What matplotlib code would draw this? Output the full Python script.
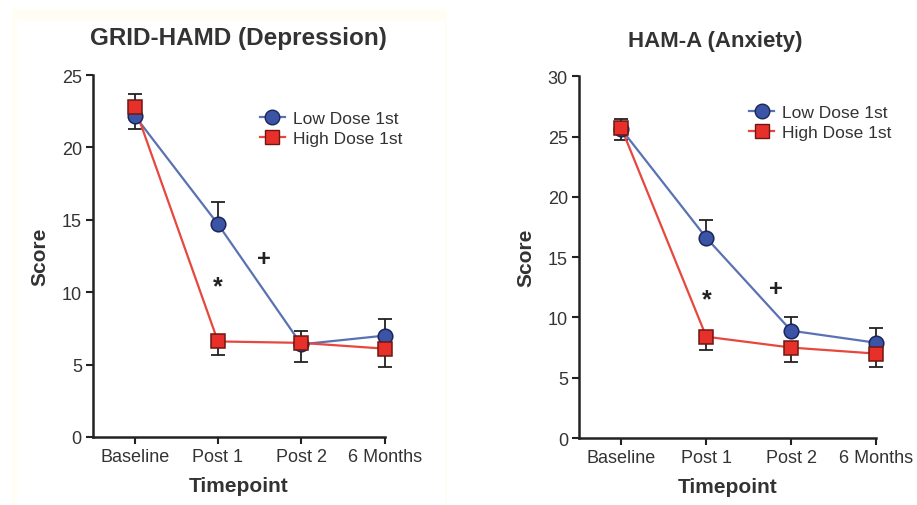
import numpy as np
import matplotlib.pyplot as plt
from matplotlib.patches import Rectangle
from matplotlib.lines import Line2D

timepoints = ["Baseline", "Post 1", "Post 2", "6 Months"]

# GRID-HAMD (depression)
hamd_low = [22.2, 14.7, 6.4, 7.0]
hamd_low_err = [1.5, 1.5, 0.95, 1.15]
hamd_high = [22.8, 6.6, 6.5, 6.1]
hamd_high_err = [1.5, 0.95, 1.35, 1.25]

# HAM-A (anxiety)
hama_low = [25.6, 16.6, 8.9, 7.9]
hama_low_err = [0.9, 1.5, 1.1, 1.2]
hama_high = [25.7, 8.4, 7.5, 7.0]
hama_high_err = [1.0, 1.1, 1.2, 1.1]

blue_line = "#5a72b4"
blue_fill = "#3b54a6"
red_line = "#e8473e"
red_fill = "#e8302a"

plt.rcParams["font.family"] = ["Liberation Sans", "DejaVu Sans"]

fig = plt.figure(figsize=(9.17, 5.06), dpi=100)
# faint cream band behind the left panel (scanned figure look)
fig.patches.append(Rectangle((12 / 917, 0), 435 / 917, 1 - 10 / 506,
                             transform=fig.transFigure, facecolor="#fffdf4",
                             edgecolor="none", zorder=-10))
fig.patches.append(Rectangle((17 / 917, 0), 428 / 917, 1 - 22 / 506,
                             transform=fig.transFigure, facecolor="white",
                             edgecolor="none", zorder=-9))


def panel(ax, low, low_err, high, high_err, ymax, title, title_size, title_x,
          marks, leg_anchor):
    x = np.arange(len(timepoints))
    ax.plot(x, low, color=blue_line, lw=1.6, zorder=3, clip_on=False)
    ax.plot(x, high, color=red_line, lw=1.6, zorder=3, clip_on=False)
    # one-sided error bars: up for low dose, down for high dose
    ax.errorbar(x, low, yerr=[np.zeros(4), low_err], fmt="none", ecolor="#222222",
                elinewidth=1.3, capsize=5, capthick=1.3, zorder=2, clip_on=False)
    ax.errorbar(x, high, yerr=[high_err, np.zeros(4)], fmt="none", ecolor="#222222",
                elinewidth=1.3, capsize=5, capthick=1.3, zorder=2, clip_on=False)
    ax.plot(x, low, "o", color=blue_fill, mec="#1a2658", mew=1.1, ms=10.5,
            zorder=4, clip_on=False)
    ax.plot(x, high, "s", color=red_fill, mec="#6e1712", mew=1.1, ms=10,
            zorder=5, clip_on=False)

    for mx, my, s, fs in marks:
        ax.text(mx, my, s, ha="center", va="center", fontsize=fs,
                fontweight="bold", color="#222222")

    ax.set_xlim(-0.5, 3.0)
    ax.set_ylim(0, ymax)
    ax.set_yticks(np.arange(0, ymax + 1, 5))
    ax.set_xticks(x)
    ax.set_xticklabels(timepoints)
    for s in ["top", "right"]:
        ax.spines[s].set_visible(False)
    for s in ["left", "bottom"]:
        ax.spines[s].set_linewidth(1.8)
        ax.spines[s].set_color("#222222")
    ax.tick_params(width=1.5, length=5, labelsize=13, colors="#222222",
                   labelcolor="#333333", pad=3)
    ax.set_xlabel("Timepoint", fontsize=15, fontweight="bold", color="#333333",
                  labelpad=8)
    ax.set_ylabel("Score", fontsize=15, fontweight="bold", color="#333333",
                  labelpad=9)
    ax.set_title(title, fontsize=title_size, fontweight="bold", color="#333333",
                 pad=22, x=title_x)

    handles = [
        Line2D([], [], color=blue_line, lw=1.6, marker="o", mfc=blue_fill,
               mec="#1a2658", ms=10.5),
        Line2D([], [], color=red_line, lw=1.6, marker="s", mfc=red_fill,
               mec="#6e1712", ms=10),
    ]
    ax.legend(handles, ["Low Dose 1st", "High Dose 1st"], loc="upper left",
              bbox_to_anchor=leg_anchor, frameon=False, fontsize=12.5,
              handlelength=1.4, handletextpad=0.5, labelspacing=0.3,
              labelcolor="#333333", borderaxespad=0)


ax1 = fig.add_axes([0.1014, 0.1344, 0.318, 0.7154])
panel(ax1, hamd_low, hamd_low_err, hamd_high, hamd_high_err, 25,
      "GRID-HAMD (Depression)", 17.5, 0.5,
      [(1.55, 12.3, "+", 17), (1.0, 10.4, "*", 18)], (0.55, 0.92))

ax2 = fig.add_axes([0.6314, 0.1324, 0.324, 0.7148])
panel(ax2, hama_low, hama_low_err, hama_high, hama_high_err, 30,
      "HAM-A (Anxiety)", 16, 0.46,
      [(1.82, 12.4, "+", 17), (1.0, 11.5, "*", 18)], (0.55, 0.94))

fig.savefig("out.png", dpi=100)
